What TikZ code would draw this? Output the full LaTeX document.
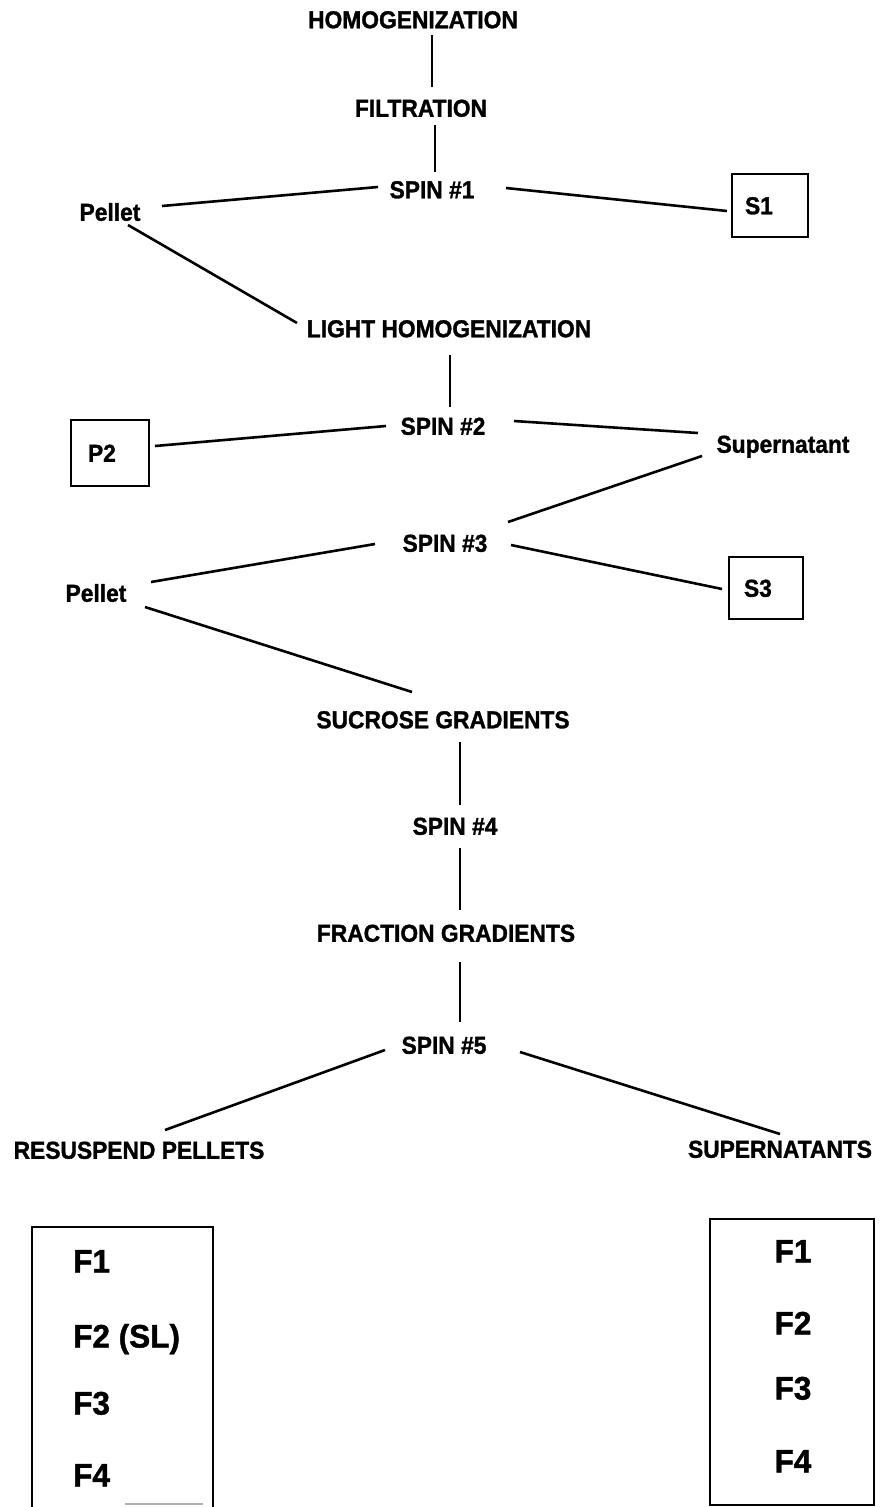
\documentclass[tikz,border=0pt]{standalone}
\usepackage{fontspec}
\setmainfont{Liberation Sans}
\newfontfamily\heavyfont{Liberation Sans}[UprightFont={* Bold},FakeBold=1.3,FakeStretch=0.93]
\newfontfamily\bigfont{Liberation Sans}[UprightFont={* Bold},FakeBold=1.3,FakeStretch=0.97]
\usetikzlibrary{calc}
\begin{document}
\begin{tikzpicture}[x=1pt,y=-1pt,
  lbl/.style={font=\fontsize{24.5}{27}\heavyfont, inner sep=0pt, text height=17.5pt, text depth=0pt},
  flbl/.style={font=\fontsize{32.5}{35}\bigfont, inner sep=0pt, text height=23pt, text depth=0pt},
  conn/.style={line width=2.6pt},
  vconn/.style={line width=2pt},
  sbox/.style={draw, line width=2pt, font=\fontsize{24.5}{27}\heavyfont, align=left, inner ysep=0pt, text height=17.5pt, text depth=0pt}
]
\useasboundingbox (0,0) rectangle (883,1507);
\fill[white] (0,0) rectangle (883,1507);

% labels
\node[lbl] (hom) at (413,19.5) {HOMOGENIZATION};
\node[lbl] (filt) at (421,108) {FILTRATION};
\node[lbl] (spin1) at (432,189.5) {SPIN \#1};
\node[lbl] (pellet1) at (110,212) {Pellet};
\node[sbox, inner xsep=13pt, text width=50pt, minimum height=63pt] (s1) at (770,205.5) {S1};
\node[lbl] (light) at (449,328.5) {LIGHT HOMOGENIZATION};
\node[lbl] (spin2) at (443,426) {SPIN \#2};
\node[sbox, inner xsep=17pt, text width=44pt, minimum height=66pt] (p2) at (110,453) {P2};
\node[lbl] (super) at (783,444) {Supernatant};
\node[lbl] (spin3) at (445,543) {SPIN \#3};
\node[sbox, inner xsep=15pt, text width=44pt, minimum height=62pt] (s3) at (766,588) {S3};
\node[lbl] (pellet2) at (96,593) {Pellet};
\node[lbl] (sucrose) at (443,719.5) {SUCROSE GRADIENTS};
\node[lbl] (spin4) at (455,826) {SPIN \#4};
\node[lbl] (fraction) at (446,933) {FRACTION GRADIENTS};
\node[lbl] (spin5) at (444,1045) {SPIN \#5};
\node[lbl] (resus) at (139,1150) {RESUSPEND PELLETS};
\node[lbl] (supers) at (780,1149) {SUPERNATANTS};

% connectors
\draw[vconn] ($(hom)+(19,15.5)$) -- ($(filt)+(11,-21)$);
\draw[vconn] ($(filt)+(14,17)$) -- ($(spin1)+(3,-17.5)$);
\draw[conn] ($(pellet1)+(52,-6)$) -- ($(spin1)+(-54,-2.5)$);
\draw[conn] ($(spin1)+(74,-1.5)$) -- ($(s1)+(-43,5.5)$);
\draw[conn] ($(pellet1)+(18,13)$) -- ($(light)+(-152,-5.5)$);
\draw[vconn] ($(light)+(1,26.5)$) -- ($(spin2)+(7,-19)$);
\draw[conn] ($(spin2)+(-57,0)$) -- ($(p2)+(45,-7)$);
\draw[conn] ($(spin2)+(71,-5)$) -- ($(super)+(-85,-11)$);
\draw[conn] ($(super)+(-81,12)$) -- ($(spin3)+(63,-21)$);
\draw[conn] ($(spin3)+(-70,1)$) -- ($(pellet2)+(55,-11)$);
\draw[conn] ($(spin3)+(66,2)$) -- ($(s3)+(-44,1)$);
\draw[conn] ($(pellet2)+(49,14)$) -- ($(sucrose)+(-31,-27.5)$);
\draw[vconn] ($(sucrose)+(17,22.5)$) -- ($(spin4)+(5,-21)$);
\draw[vconn] ($(spin4)+(5,22)$) -- ($(fraction)+(14,-23)$);
\draw[vconn] ($(fraction)+(14,29)$) -- ($(spin5)+(16,-23)$);
\draw[conn] ($(spin5)+(-59,5)$) -- ($(resus)+(26,-20)$);
\draw[conn] ($(spin5)+(76,7)$) -- ($(supers)+(0,-15)$);

% bottom boxes
\node[draw, line width=2pt, minimum width=181pt, minimum height=292pt, inner sep=0pt] (lbox) at (122.5,1373) {};
\draw[gray!60, line width=1.2pt] (125,1504) -- (203,1504);
\node[flbl, anchor=west] (lf1) at (73,1261) {F1};
\node[flbl, anchor=west] (lf2) at (73,1336) {F2 (SL)};
\node[flbl, anchor=west] (lf3) at (73,1403) {F3};
\node[flbl, anchor=west] (lf4) at (73,1475) {F4};

\node[draw, line width=2pt, minimum width=164pt, minimum height=286pt, inner sep=0pt] (rbox) at (792,1362) {};
\node[flbl] (rf1) at (793,1251) {F1};
\node[flbl] (rf2) at (793,1323) {F2};
\node[flbl] (rf3) at (793,1388) {F3};
\node[flbl] (rf4) at (793,1461) {F4};
\end{tikzpicture}
\end{document}
